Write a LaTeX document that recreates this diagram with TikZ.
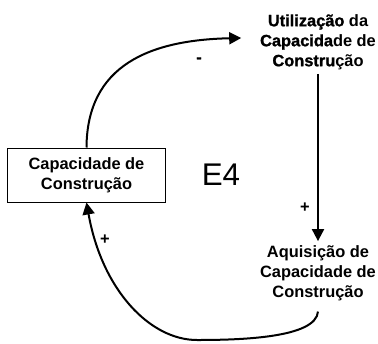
\documentclass[tikz,border=0pt]{standalone}
\usepackage{fontspec}
\setmainfont{Liberation Sans}
\newfontfamily\heavyfont[BoldFeatures={FakeBold=1.2}]{Liberation Sans}
\usetikzlibrary{arrows.meta}

\begin{document}
\begin{tikzpicture}[x=0.75pt,y=-0.75pt,
    lbl/.style={align=center,font=\fontsize{12.3}{15}\selectfont\bfseries,inner sep=3pt},
    sgn/.style={font=\fontsize{12.3}{15}\selectfont\bfseries,inner sep=0pt},
    arr/.style={line width=1.5pt,-{Triangle[length=9pt,width=9pt]}}]
\useasboundingbox (0,0) rectangle (378,343);

\node[lbl,draw,line width=0.75pt,minimum width=119pt,minimum height=40.5pt] (cap) at (86.5,175) {Capacidade de\\Construção};
\node[lbl] (util) at (318,42) {{\heavyfont Utilização} da\\{\heavyfont Capacida}de de\\{\heavyfont Constru}ção};
\node[lbl] (aq) at (318,273) {Aquisição de\\Capacidade de\\Construção};
\node[font=\fontsize{23.5}{26}\selectfont] (e4) at (221,175) {E4};

\draw[arr] (cap.north) .. controls (87,65) and (150,40) .. ([xshift=-11pt,yshift=3pt]util.west);
\draw[arr] (util.south) -- (aq.north);
\draw[arr] ([yshift=-5pt]aq.south) .. controls (316,338) and (240,340) .. (197,340) .. controls (150,340) and (102,290) .. (cap.south);

\node[sgn] (m1) at (199,60) {\heavyfont\bfseries -};
\node[sgn] (p1) at (305,208) {+};
\node[sgn] (p2) at (105,240) {+};
\end{tikzpicture}
\end{document}
